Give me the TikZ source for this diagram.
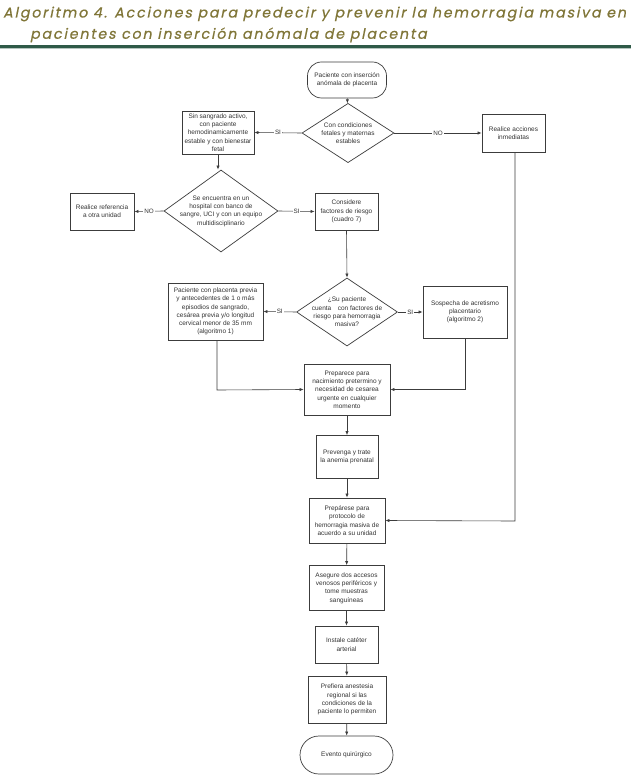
\documentclass[tikz,border=0pt]{standalone}
\usepackage{fontspec}
\setmainfont{Liberation Sans}
\newfontfamily\titlefont[FakeSlant=0.2,LetterSpace=13,FakeBold=0.6]{Poppins}
\usetikzlibrary{shapes.geometric,arrows.meta}
\definecolor{titlecol}{RGB}{128,118,56}
\definecolor{rulecol}{RGB}{47,90,72}
\definecolor{linecol}{RGB}{60,60,60}
\tikzset{
  x=1pt,y=-1pt,
  every node/.style={font=\fontsize{6.5}{8.3}\selectfont, text=black!80},
  proc/.style 2 args={draw=linecol, line width=0.7pt, align=center, inner sep=1pt, minimum height=#1, minimum width=#2},
  dec/.style={draw=linecol, line width=0.7pt, diamond, aspect=1.4, align=center, inner sep=0pt},
  term/.style={draw=linecol, line width=0.7pt, rounded corners=14pt, align=center, inner sep=2pt},
  conn/.style={draw=linecol, line width=0.6pt, -{Latex[length=4pt,width=3.2pt]}},
  lab/.style={fill=white, inner sep=1pt, font=\fontsize{6.3}{7}\selectfont}
}
\begin{document}
\begin{tikzpicture}
\useasboundingbox (0,0) rectangle (631,783);
\fill[white] (0,0) rectangle (631,783);
% title
\node[anchor=west, text=titlecol, font=\titlefont\fontsize{14.2}{16}\selectfont, inner sep=0] (t1) at (3,14) {Algoritmo 4. Acciones para predecir y prevenir la hemorragia masiva en};
\node[anchor=west, text=titlecol, font=\titlefont\fontsize{14.2}{16}\selectfont, inner sep=0] (t2) at (30,35) {pacientes con inserción anómala de placenta};
\fill[rulecol] (0,45.5) rectangle (631,48.5);
\fill[rulecol!35] (0,48.5) rectangle (631,49.5);

% nodes
\node[term, minimum width=79, minimum height=36] (start) at (347,80) {Paciente con inserción\\anómala de placenta};
\node[dec, minimum width=92, minimum height=54] (d1) at (348,133) {Con condiciones\\fetales y maternas\\estables};
\node[proc={43}{72}] (sin) at (218,132.5) {Sin sangrado activo,\\con paciente\\hemodinamicamente\\estable y con bienestar\\fetal};
\node[proc={38}{63}] (realice) at (513.5,133) {Realice acciones\\inmediatas};
\node[dec, inner sep=-3pt, minimum width=114, minimum height=82] (d2) at (221,211) {Se encuentra en un\\hospital con banco de\\sangre, UCI y con un equipo\\multidisciplinario};
\node[proc={37}{64}] (ref) at (102,211.5) {Realice referencia\\a otra unidad};
\node[proc={37}{63}] (cons) at (346.5,211.5) {Considere\\factores de riesgo\\(cuadro 7)};
\node[dec, inner sep=-3.5pt, minimum width=101, minimum height=60] (d3) at (347,312) {¿Su paciente\\cuenta\quad con factores de\\riesgo para hemorragia\\masiva?};
\node[proc={57}{95}] (prev) at (215.5,311.5) {Paciente con placenta previa\\y antecedentes de 1 o más\\episodios de sangrado,\\cesárea previa y/o longitud\\cervical menor de 35 mm\\(algoritmo 1)};
\node[proc={52}{84}] (sosp) at (465,312) {Sospecha de acretismo\\placentario\\(algoritmo 2)};
\node[proc={51}{86}] (prep) at (347,389.5) {Preparece para\\nacimiento pretermino y\\necesidad de cesarea\\urgente en cualquier\\momento};
\node[proc={43}{62}] (anem) at (347,457) {Prevenga y trate\\la anemia prenatal};
\node[proc={45}{76}] (proto) at (347,520.5) {Prepárese para\\protocolo de\\hemorragia masiva de\\acuerdo a su unidad};
\node[proc={45}{75}] (aseg) at (346.5,588) {Asegure dos accesos\\venosos periféricos y\\tome muestras\\sanguíneas};
\node[proc={37}{63}] (inst) at (346.5,644.5) {Instale catéter\\arterial};
\node[proc={47}{78}] (pref) at (347,699.5) {Prefiera anestesia\\regional si las\\condiciones de la\\paciente lo permiten};
\node[term, minimum width=93, minimum height=38, rounded corners=19pt] (fin) at (346.5,755) {Evento quirúrgico};

\coordinate (c1) at (217,390);
\coordinate (c3) at (515,521);

% connectors
\draw[conn] (start) -- (d1);
\draw[conn] (d1.west) -- node[lab]{SI} (sin.east);
\draw[conn] (d1.east) -- node[lab]{NO} (realice.west);
\draw[conn] (sin.south) -- (d2.north -| sin.south);
\draw[conn] (d2.west) -- node[lab]{NO} (ref.east);
\draw[conn] (d2.east) -- node[lab]{SI} (cons.west);
\draw[conn] (cons.south) -- (d3.north);
\draw[conn] (d3.west) -- node[lab]{SI} (prev.east);
\draw[conn] (d3.east) -- node[lab]{SI} (sosp.west);
\draw[conn] (prev.south -| c1) -- (c1) -- (prep.west);
\draw[conn] (sosp.south) -- (sosp.south |- prep.east) -- (prep.east);
\draw[conn] (prep) -- (anem);
\draw[conn] (anem) -- (proto);
\draw[conn] (realice.south -| c3) -- (c3) -- (proto.east);
\draw[conn] (proto) -- (aseg);
\draw[conn] (aseg) -- (inst);
\draw[conn] (inst) -- (pref);
\draw[conn] (pref) -- (fin);
\end{tikzpicture}
\end{document}
